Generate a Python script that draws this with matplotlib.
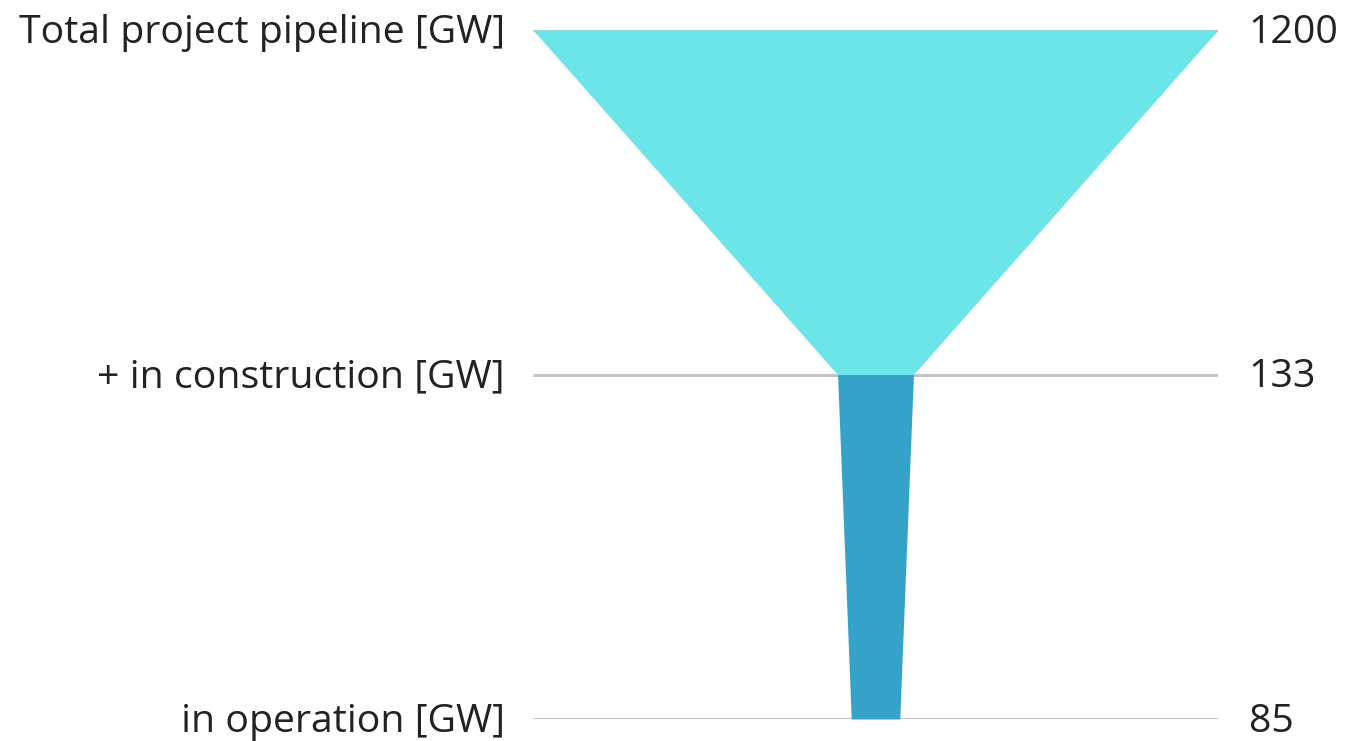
import matplotlib.pyplot as plt

# Funnel stages and values
stages = ["Total project pipeline [GW]", "+ in construction [GW]", "in operation [GW]"]
values = [1200, 133, 85]
seg_colors = ["#6ce5e8", "#35a2c9"]

plt.rcParams['font.family'] = ['Open Sans', 'DejaVu Sans']

fig = plt.figure(figsize=(13.46, 7.41), dpi=100)
ax = fig.add_axes([533 / 1346, 22 / 741, 685 / 1346, 689 / 741])

vmax = max(values)
levels = list(range(len(values)))

# grid lines at each stage
for lv in levels:
    ax.plot([-vmax / 2, vmax / 2], [lv, lv], color="#c4c4c4", lw=2.2, zorder=1, solid_capstyle='butt')

# funnel segments between consecutive stages
for i in range(len(values) - 1):
    y = [levels[i], levels[i + 1]]
    half = [values[i] / 2, values[i + 1] / 2]
    ax.fill_betweenx(y, [-h for h in half], half, color=seg_colors[i], lw=0, zorder=2)

for lv, name, v in zip(levels, stages, values):
    ypos = 1 - lv / (len(values) - 1) - 0.004
    ax.text(-0.041, ypos, name, transform=ax.transAxes,
            ha='right', va='center', fontsize=28.3, color="#222222")
    ax.text(1.045, ypos, str(v), transform=ax.transAxes,
            ha='left', va='center', fontsize=28.3, color="#222222")

ax.set_xlim(-vmax / 2, vmax / 2)
ax.set_ylim(levels[-1], levels[0])
ax.axis('off')

fig.savefig("out.png", dpi=100)
